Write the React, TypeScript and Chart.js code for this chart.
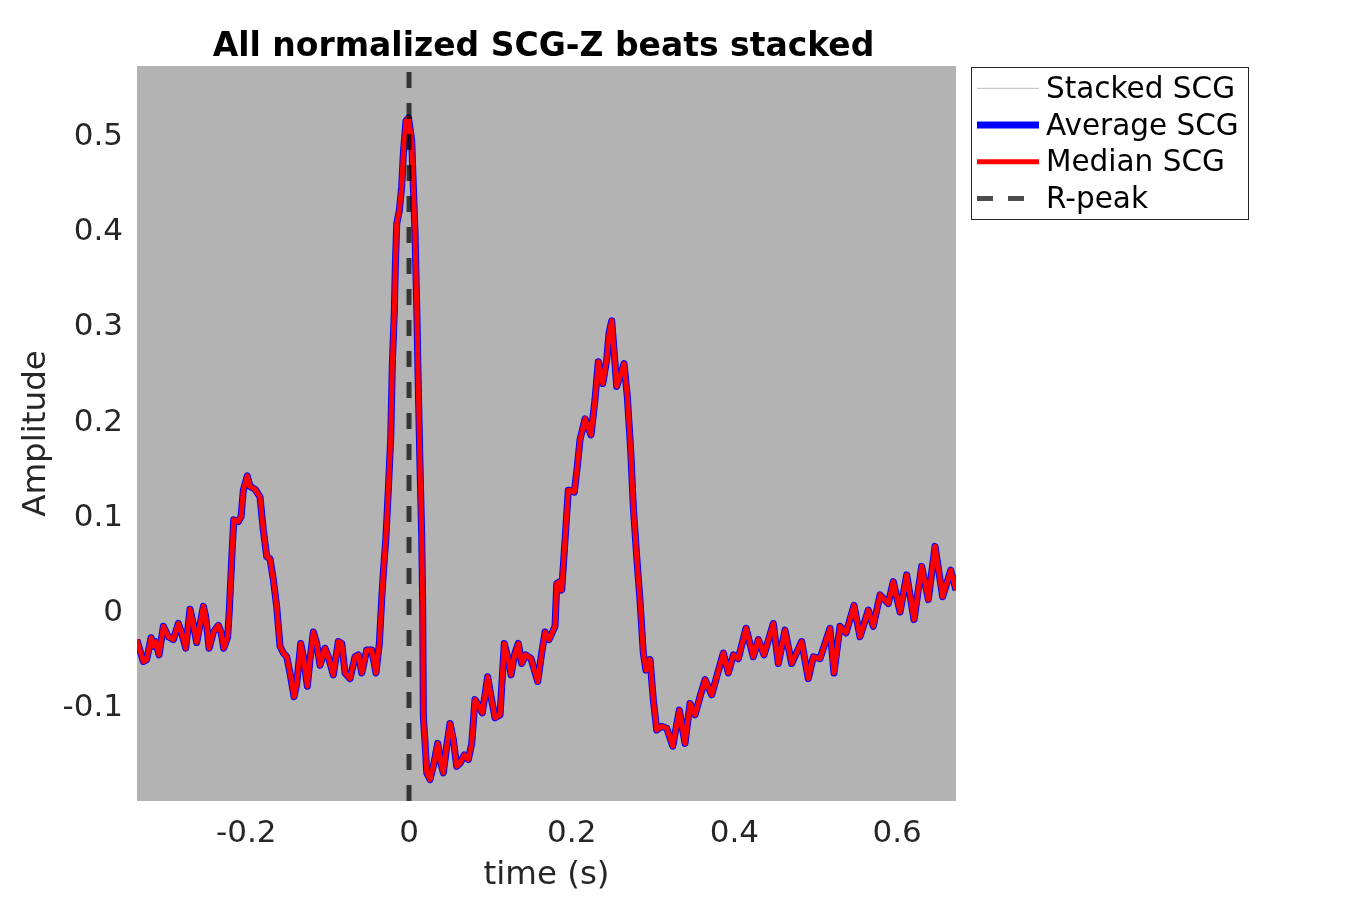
import { useEffect, useRef } from "react";
import { Chart, registerables } from "chart.js";

Chart.register(...registerables);

// beat time relative to the R-peak (s) and normalized SCG-Z amplitude
const TIME = [
  -0.3347, -0.3266, -0.3225, -0.3171, -0.3143, -0.3114, -0.3073, -0.302, -0.2959, -0.2897,
  -0.2836, -0.2795, -0.2745, -0.2692, -0.2663, -0.261, -0.2528, -0.2499, -0.2458, -0.2405,
  -0.2344, -0.2311, -0.2278, -0.2229, -0.2209, -0.218, -0.2155, -0.2098, -0.2065, -0.2037,
  -0.1988, -0.1955, -0.1893, -0.1832, -0.1791, -0.1749, -0.1709, -0.1668, -0.1627, -0.1586,
  -0.1545, -0.1503, -0.1463, -0.1414, -0.138, -0.1331, -0.1299, -0.125, -0.1217, -0.1176,
  -0.1135, -0.1094, -0.1033, -0.0992, -0.0931, -0.0869, -0.0827, -0.0787, -0.0725, -0.0664,
  -0.0623, -0.0581, -0.052, -0.0459, -0.0406, -0.0365, -0.0336, -0.0316, -0.0283, -0.0254,
  -0.0225, -0.0205, -0.0181, -0.0168, -0.0151, -0.0119, -0.009, -0.007, -0.0037, -0.0006,
  0.0033, 0.0053, 0.0074, 0.0095, 0.0114, 0.0135, 0.0156, 0.0168, 0.0176, 0.0197,
  0.0218, 0.0258, 0.0299, 0.0353, 0.0393, 0.0422, 0.0463, 0.0504, 0.0545, 0.0586,
  0.0627, 0.068, 0.0729, 0.0771, 0.0811, 0.086, 0.0901, 0.0967, 0.1008, 0.1057,
  0.1119, 0.1147, 0.1171, 0.1221, 0.1254, 0.1303, 0.1344, 0.1385, 0.1435, 0.15,
  0.1582, 0.1631, 0.1672, 0.1721, 0.1774, 0.1795, 0.1816, 0.1856, 0.1877, 0.1918,
  0.1958, 0.2032, 0.2069, 0.2102, 0.2164, 0.2237, 0.2286, 0.2327, 0.2381, 0.243,
  0.2459, 0.2492, 0.252, 0.2553, 0.2606, 0.2643, 0.2684, 0.2725, 0.2757, 0.2799,
  0.2839, 0.288, 0.2913, 0.2963, 0.3003, 0.3045, 0.3106, 0.3168, 0.3242, 0.3323,
  0.3393, 0.3454, 0.3516, 0.3577, 0.3639, 0.3721, 0.3782, 0.3864, 0.3925, 0.3987,
  0.4048, 0.4143, 0.4232, 0.4294, 0.4364, 0.4478, 0.454, 0.4622, 0.4704, 0.4827,
  0.4908, 0.497, 0.5052, 0.5175, 0.5224, 0.5298, 0.5372, 0.547, 0.5544, 0.5646,
  0.5707, 0.579, 0.5892, 0.5953, 0.6036, 0.6118, 0.6208, 0.6302, 0.6384, 0.6466,
  0.656, 0.6659, 0.6724,
];

const AMPLITUDE = [
  -0.028, -0.051, -0.049, -0.026, -0.035, -0.03, -0.044, -0.014, -0.025, -0.028,
  -0.011, -0.021, -0.037, 0.004, -0.007, -0.031, 0.007, -0.004, -0.037, -0.02,
  -0.013, -0.02, -0.037, -0.025, 0.003, 0.056, 0.098, 0.096, 0.101, 0.129,
  0.144, 0.133, 0.13, 0.122, 0.087, 0.059, 0.057, 0.035, 0.007, -0.035,
  -0.042, -0.046, -0.063, -0.088, -0.074, -0.032, -0.046, -0.077, -0.049, -0.02,
  -0.032, -0.055, -0.037, -0.046, -0.065, -0.03, -0.032, -0.063, -0.069, -0.046,
  -0.044, -0.063, -0.039, -0.039, -0.063, -0.032, 0.014, 0.042, 0.081, 0.13,
  0.184, 0.262, 0.316, 0.365, 0.409, 0.423, 0.448, 0.482, 0.517, 0.52,
  0.496, 0.448, 0.399, 0.321, 0.238, 0.154, 0.081, 0.008, -0.109, -0.136,
  -0.168, -0.175, -0.161, -0.137, -0.158, -0.168, -0.14, -0.116, -0.133, -0.161,
  -0.158, -0.149, -0.154, -0.137, -0.091, -0.098, -0.105, -0.067, -0.088, -0.11,
  -0.107, -0.067, -0.032, -0.049, -0.065, -0.042, -0.032, -0.053, -0.044, -0.048,
  -0.072, -0.042, -0.02, -0.028, -0.018, -0.014, 0.031, 0.033, 0.024, 0.077,
  0.129, 0.127, 0.154, 0.182, 0.204, 0.187, 0.224, 0.264, 0.241, 0.266,
  0.294, 0.307, 0.276, 0.238, 0.252, 0.262, 0.227, 0.171, 0.112, 0.059,
  0.014, -0.042, -0.06, -0.049, -0.091, -0.123, -0.119, -0.121, -0.14, -0.102,
  -0.137, -0.095, -0.107, -0.088, -0.07, -0.086, -0.067, -0.042, -0.063, -0.044,
  -0.048, -0.016, -0.046, -0.028, -0.044, -0.011, -0.053, -0.018, -0.053, -0.03,
  -0.069, -0.046, -0.048, -0.016, -0.063, -0.014, -0.021, 0.008, -0.025, 0.003,
  -0.014, 0.019, 0.01, 0.033, 0.001, 0.04, -0.007, 0.049, 0.014, 0.07,
  0.017, 0.045, 0.024,
];

// the average and median beats coincide in the figure
const AVERAGE_SCG = AMPLITUDE;
const MEDIAN_SCG = AMPLITUDE;
const R_PEAK_TIME = 0;

const X_TICKS = [-0.2, 0, 0.2, 0.4, 0.6];
const Y_TICKS = [-0.1, 0, 0.1, 0.2, 0.3, 0.4, 0.5];
const X_MIN = -0.3344;
const X_MAX = 0.6724;
const Y_MIN = -0.1975;
const Y_MAX = 0.5746;

const FONT = "'DejaVu Sans', sans-serif";
const TEXT = "#262626";

const fmt = (v: number) => String(Number(v.toFixed(2)));

const backgroundPlugin = {
  id: "axesBackground",
  beforeDraw(chart: any) {
    const { ctx, chartArea } = chart;
    ctx.save();
    ctx.fillStyle = "#b3b3b3";
    ctx.fillRect(chartArea.left, chartArea.top, chartArea.right - chartArea.left, chartArea.bottom - chartArea.top);
    ctx.restore();
  },
};

const titleAndLegendPlugin = {
  id: "titleAndLegend",
  afterDraw(chart: any) {
    const { ctx, chartArea } = chart;
    ctx.save();
    // title
    ctx.fillStyle = "#000";
    ctx.font = `bold 33px ${FONT}`;
    ctx.textAlign = "center";
    ctx.textBaseline = "alphabetic";
    ctx.fillText("All normalized SCG-Z beats stacked", (chartArea.left + chartArea.right) / 2 - 3, 56);

    // legend box
    const bx = 971, by = 67, bw = 277, bh = 152;
    ctx.fillStyle = "#fff";
    ctx.fillRect(bx, by, bw, bh);
    ctx.strokeStyle = TEXT;
    ctx.lineWidth = 1;
    ctx.strokeRect(bx + 0.5, by + 0.5, bw, bh);

    const entries = ["Stacked SCG", "Average SCG", "Median SCG", "R-peak"];
    ctx.font = `29.5px ${FONT}`;
    ctx.textAlign = "left";
    ctx.textBaseline = "middle";
    entries.forEach((label, i) => {
      const ds = chart.data.datasets.find((d: any) => d.label === label);
      const y = 88.3 + i * 36.7;
      ctx.save();
      ctx.strokeStyle = ds.borderColor;
      ctx.lineWidth = ds.borderWidth;
      ctx.setLineDash(ds.borderDash || []);
      ctx.beginPath();
      ctx.moveTo(977, y);
      ctx.lineTo(1039, y);
      ctx.stroke();
      ctx.restore();
      ctx.fillStyle = "#000";
      ctx.fillText(label, 1046, y + 2);
    });
    ctx.restore();
  },
};

export default function App() {
  const canvasRef = useRef<HTMLCanvasElement>(null);

  useEffect(() => {
    let chart: Chart | undefined;
    if (canvasRef.current) {
      chart = new Chart(canvasRef.current, {
        type: "line",
        data: {
          datasets: [
            {
              label: "Stacked SCG",
              data: [],
              borderColor: "#bdbdbd",
              borderWidth: 1,
              pointRadius: 0,
              order: 3,
            },
            {
              label: "Average SCG",
              data: TIME.map((t, i) => ({ x: t, y: AVERAGE_SCG[i] })),
              borderColor: "#0000ff",
              borderWidth: 7,
              borderJoinStyle: "round",
              pointRadius: 0,
              order: 2,
            },
            {
              label: "Median SCG",
              data: TIME.map((t, i) => ({ x: t, y: MEDIAN_SCG[i] })),
              borderColor: "#ff0000",
              borderWidth: 5,
              borderJoinStyle: "round",
              pointRadius: 0,
              order: 1,
            },
            {
              label: "R-peak",
              data: [
                { x: R_PEAK_TIME, y: Y_MIN },
                { x: R_PEAK_TIME, y: Y_MAX },
              ],
              borderColor: "rgba(0,0,0,0.7)",
              borderWidth: 5,
              borderDash: [16, 15],
              borderCapStyle: "butt",
              pointRadius: 0,
              order: 0,
            },
          ],
        },
        options: {
          animation: false,
          responsive: false,
          layout: { padding: { left: 0, top: 66, right: 394, bottom: 0 } },
          plugins: {
            legend: { display: false },
            tooltip: { enabled: false },
            title: { display: false },
          },
          scales: {
            x: {
              type: "linear",
              min: X_MIN,
              max: X_MAX,
              grid: { display: false, drawTicks: false },
              border: { display: false },
              afterBuildTicks: (scale: any) => {
                scale.ticks = X_TICKS.map((v) => ({ value: v }));
              },
              afterFit: (scale: any) => {
                scale.height = 99;
              },
              ticks: {
                color: TEXT,
                font: { family: FONT, size: 31 },
                padding: 14,
                maxRotation: 0,
                autoSkip: false,
                callback: (v: any) => fmt(Number(v)),
              },
              title: {
                display: true,
                text: "time (s)",
                color: TEXT,
                font: { family: FONT, size: 32.5 },
                padding: { top: 0, bottom: 5 },
              },
            },
            y: {
              type: "linear",
              min: Y_MIN,
              max: Y_MAX,
              grid: { display: false, drawTicks: false },
              border: { display: false },
              afterBuildTicks: (scale: any) => {
                scale.ticks = Y_TICKS.map((v) => ({ value: v }));
              },
              afterFit: (scale: any) => {
                scale.width = 137;
              },
              ticks: {
                color: TEXT,
                font: { family: FONT, size: 31 },
                padding: 14,
                autoSkip: false,
                callback: (v: any) => fmt(Number(v)),
              },
              title: {
                display: true,
                text: "Amplitude",
                color: TEXT,
                font: { family: FONT, size: 32.5 },
                padding: { top: 17, bottom: 0 },
              },
            },
          },
        },
        plugins: [backgroundPlugin, titleAndLegendPlugin],
      });
    }
    return () => {
      if (chart) chart.destroy();
    };
  }, []);

  return (
    <div style={{ position: "absolute", left: 0, top: 0, width: 1350, height: 900, background: "#fff" }}>
      <canvas ref={canvasRef} width={1350} height={900} style={{ width: 1350, height: 900 }}></canvas>
    </div>
  );
}
